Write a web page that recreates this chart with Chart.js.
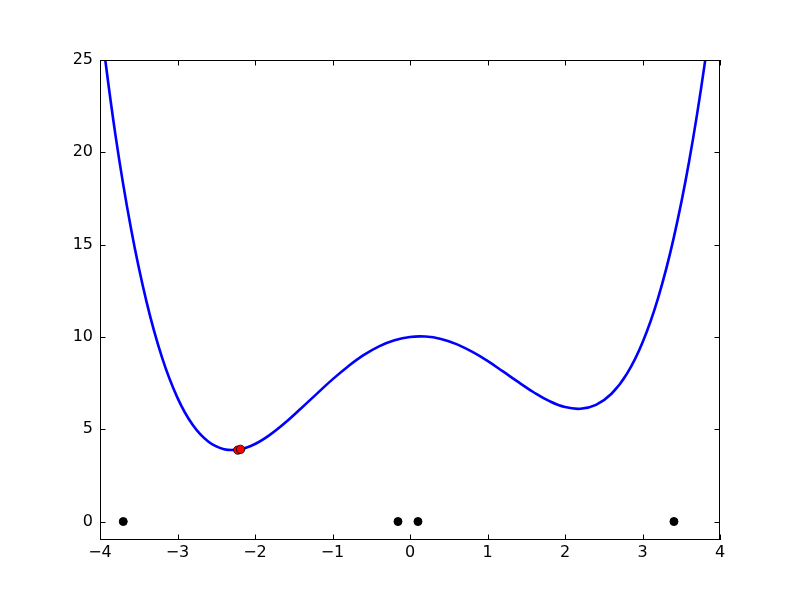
<!DOCTYPE html>
<html>
<head>
<meta charset="utf-8">
<script src="https://cdn.jsdelivr.net/npm/chart.js@4"></script>
<style>
  html, body { margin: 0; padding: 0; background: #fff; }
  #wrap { width: 800px; height: 600px; }
</style>
</head>
<body>
<div id="wrap"><canvas id="plot" width="800" height="600"></canvas></div>
<script>
/* curve */
const curveX = [-4.0, -3.8, -3.6, -3.4, -3.2, -3.0, -2.8, -2.6, -2.4, -2.2, -2.0, -1.8,
  -1.6, -1.4, -1.2, -1.0, -0.8, -0.6, -0.4, -0.2, 0.0, 0.2, 0.4, 0.6, 0.8, 1.0, 1.2,
  1.4, 1.6, 1.8, 2.0, 2.2, 2.4, 2.6, 2.8, 3.0, 3.2, 3.4, 3.6, 3.8, 4.0];
const curveY = [27.2, 20.92, 15.87, 11.91, 8.89, 6.70, 5.21, 4.32, 3.92, 3.91, 4.20, 4.72,
  5.39, 6.15, 6.93, 7.70, 8.40, 9.01, 9.49, 9.82, 10.00, 10.02, 9.89, 9.61, 9.20, 8.70, 8.13,
  7.55, 6.99, 6.52, 6.20, 6.11, 6.32, 6.92, 8.01, 9.70, 12.09, 15.31, 19.47, 24.72, 31.2];

/* starting points (black) and found minima (red) */
const startX = [-3.70, -0.155, 0.103, 3.406];
const startY = [0, 0, 0, 0];
const minX = [-2.223, -2.186];
const minY = [3.87, 3.91];

const xTicks = [-4, -3, -2, -1, 0, 1, 2, 3, 4];
const yTicks = [0, 5, 10, 15, 20, 25];

const pts = (xs, ys) => xs.map((x, i) => ({ x, y: ys[i] }));
const fmt = v => v < 0 ? '\u2212' + Math.abs(v) : String(v);

// matplotlib classic frame with inward ticks on all four sides
const frame = {
  id: 'frame',
  afterDraw(chart) {
    const { ctx, chartArea: a, scales } = chart;
    const len = 5.5;
    ctx.save();
    ctx.strokeStyle = '#000';
    ctx.lineWidth = 1;
    ctx.beginPath();
    xTicks.forEach(t => {
      const px = Math.round(scales.x.getPixelForValue(t)) + 0.5;
      ctx.moveTo(px, a.bottom); ctx.lineTo(px, a.bottom - len);
      ctx.moveTo(px, a.top); ctx.lineTo(px, a.top + len);
    });
    yTicks.forEach(t => {
      const py = Math.round(scales.y.getPixelForValue(t)) + 0.5;
      ctx.moveTo(a.left, py); ctx.lineTo(a.left + len, py);
      ctx.moveTo(a.right, py); ctx.lineTo(a.right - len, py);
    });
    ctx.stroke();
    ctx.strokeRect(a.left + 0.5, a.top + 0.5, a.right - a.left - 1, a.bottom - a.top - 1);
    ctx.restore();
  }
};

new Chart(document.getElementById('plot').getContext('2d'), {
  type: 'scatter',
  data: {
    datasets: [
      {
        data: pts(curveX, curveY),
        showLine: true,
        borderColor: '#0000ff',
        borderWidth: 2.6,
        pointRadius: 0,
        tension: 0.4,
        clip: 0,
        order: 3,
      },
      {
        data: pts(startX, startY),
        backgroundColor: '#000',
        borderColor: '#000',
        borderWidth: 1,
        pointRadius: 4,
        order: 2,
      },
      {
        data: pts(minX, minY),
        backgroundColor: '#ff0000',
        borderColor: '#000',
        borderWidth: 0.8,
        pointRadius: 4.2,
        order: 1,
      },
    ]
  },
  options: {
    responsive: false,
    animation: false,
    events: [],
    layout: { padding: { left: 0, top: 60, right: 80, bottom: 0 } },
    plugins: { legend: { display: false }, tooltip: { enabled: false } },
    scales: {
      x: {
        type: 'linear', min: -4, max: 4,
        afterBuildTicks: s => { s.ticks = xTicks.map(v => ({ value: v })); },
        afterFit: s => { s.height = 60; },
        grid: { display: false, drawTicks: false },
        border: { display: false },
        ticks: { color: '#000', padding: 3, font: { family: 'DejaVu Sans', size: 16 }, callback: fmt }
      },
      y: {
        type: 'linear', min: -1, max: 25,
        afterBuildTicks: s => { s.ticks = yTicks.map(v => ({ value: v })); },
        afterFit: s => { s.width = 100; },
        grid: { display: false, drawTicks: false },
        border: { display: false },
        ticks: { color: '#000', padding: 7, font: { family: 'DejaVu Sans', size: 16 }, callback: fmt }
      }
    }
  },
  plugins: [frame]
});
</script>
</body>
</html>
